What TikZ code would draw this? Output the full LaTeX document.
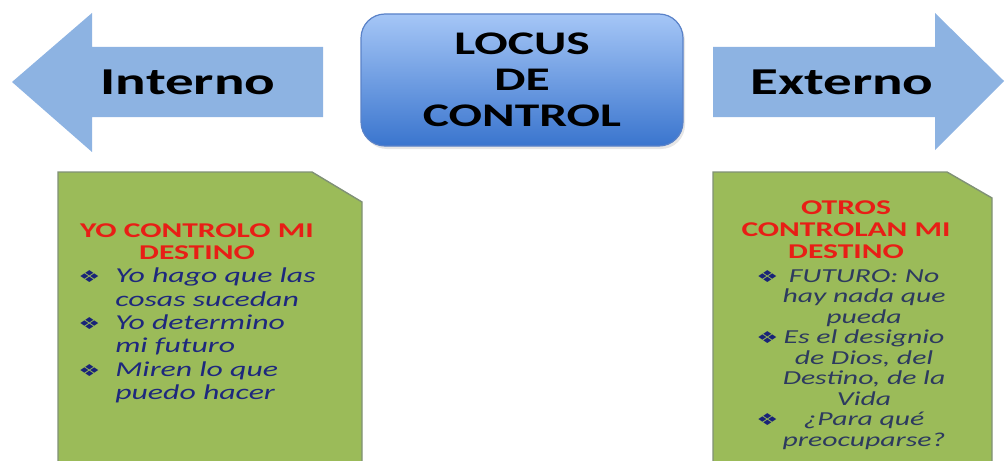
\documentclass[tikz,border=0pt]{standalone}
\usepackage{fontspec}
\setmainfont{Carlito}
\newfontfamily\symfont{DejaVu Sans}
\usetikzlibrary{shadows}
\definecolor{arrowblue}{RGB}{141,179,226}
\definecolor{boxtop}{RGB}{165,198,246}
\definecolor{boxbottom}{RGB}{58,117,206}
\definecolor{boxline}{RGB}{90,130,200}
\definecolor{boxgreen}{RGB}{155,187,89}
\definecolor{greenline}{RGB}{128,145,118}
\definecolor{titlered}{RGB}{232,30,22}
\definecolor{bulletnavy}{RGB}{25,35,120}
\definecolor{textnavy}{RGB}{30,40,125}
\definecolor{textslate}{RGB}{45,58,95}
\newcommand{\wide}[1]{\scalebox{1.5}[1]{#1}}
\newcommand{\blt}{{\symfont\fontsize{8.2}{8.2}\selectfont\color{bulletnavy}❖}}
\begin{document}
\begin{tikzpicture}[x=0.5pt, y=-0.5pt,
        arrowtext/.style={inner sep=0pt, font=\bfseries\fontsize{19}{19}\selectfont},
        locusbox/.style={draw=boxline, line width=0.6pt, rounded corners=12pt, top color=boxtop, bottom color=boxbottom, minimum width=161pt, minimum height=66pt, align=center, inner sep=0pt, font=\bfseries\fontsize{16.5}{18}\selectfont, drop shadow={opacity=0.2, shadow xshift=1pt, shadow yshift=-1.5pt}},
        greenbox/.style={fill=boxgreen, draw=greenline, line width=0.7pt},
        redtitle/.style={inner sep=0pt, align=center, text=titlered, font=\bfseries\fontsize{10.5}{11}\selectfont},
        itemtext/.style={inner sep=0pt, font=\itshape}]
        \clip (0, 0) rectangle (1005, 460);
        \fill[arrowblue] (12, 82) -- (92, 13) -- (92, 47) -- (323, 47) -- (323, 117) -- (92, 117) -- (92, 152) -- cycle;
        \fill[arrowblue] (1004, 81) -- (935, 13) -- (935, 47) -- (713, 47) -- (713, 117) -- (935, 117) -- (935, 150) -- cycle;
        \node[arrowtext] (interno) at (188, 82) {\wide{Interno}};
        \node[arrowtext] (externo) at (842, 82) {\wide{Externo}};
        \node[locusbox] (locus) at (522, 80) {\wide{LOCUS}\\ \wide{DE}\\ \wide{CONTROL}};
        \filldraw[greenbox] (58, 172) -- (312, 172) -- (362, 202) -- (362, 470) -- (58, 470) -- cycle;
        \filldraw[greenbox] (713, 172) -- (947, 172) -- (992, 198) -- (992, 470) -- (713, 470) -- cycle;
        \node[redtitle] (yotitle) at (197, 242) {\wide{YO CONTROLO MI}\\ \wide{DESTINO}};
        \node[redtitle] (otrostitle) at (846, 230) {\wide{OTROS}\\ \wide{CONTROLAN MI}\\ \wide{DESTINO}};
        \node[itemtext, anchor=west, text=textnavy] (yolist) at (78, 336.5) {\fontsize{10.6}{11.65}\selectfont\wide{%
                \begin{tabular}{@{}l@{}l@{}}
                \makebox[12.3pt][l]{\blt} & Yo hago que las\\
                & cosas sucedan\\
                \makebox[12.3pt][l]{\blt} & Yo determino\\
                & mi futuro\\
                \makebox[12.3pt][l]{\blt} & Miren lo que\\
                & puedo hacer
                \end{tabular}}};
        \node[itemtext, anchor=west, text=textslate] (otroslist) at (756, 360) {\fontsize{9.9}{10.25}\selectfont\wide{%
                \begin{tabular}{@{}l@{}c@{}}
                \makebox[8.7pt][l]{\blt} & FUTURO: No\\
                & hay nada que\\
                & pueda\\
                \makebox[8.7pt][l]{\blt} & Es el designio\\
                & de Dios, del\\
                & Destino, de la\\
                & Vida\\
                \makebox[8.7pt][l]{\blt} & ¿Para qué\\
                & preocuparse?
                \end{tabular}}};
\end{tikzpicture}
\end{document}
